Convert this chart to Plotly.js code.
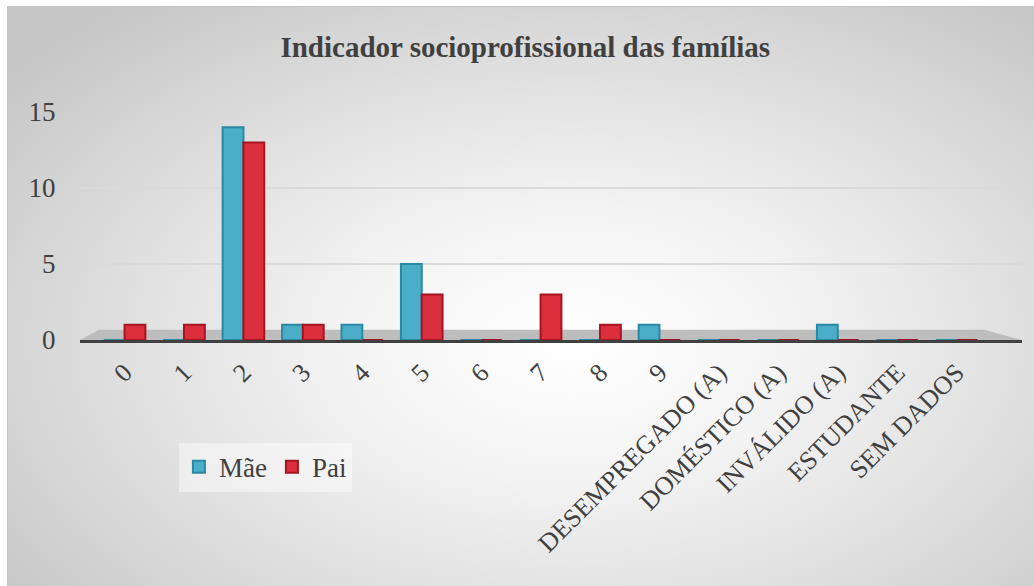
<!DOCTYPE html>
<html>
<head>
<meta charset="utf-8">
<script src="https://cdn.plot.ly/plotly-3.0.1.min.js"></script>
<style>
  html, body { margin: 0; padding: 0; background: #ffffff; width: 1034px; height: 586px; overflow: hidden; }
  #bg { position: absolute; left: 7px; top: 6px; width: 1026px; height: 579px;
        border: 1px solid #c4c4c4;
        background: radial-gradient(ellipse 70% 75% at 55% 58%, #ffffff 0%, #f4f4f4 30%, #dedede 65%, #c6c6c6 100%); }
  #chart { position: absolute; left: 0; top: 0; width: 1034px; height: 586px; }
</style>
</head>
<body>
<div id="bg"></div>
<div id="chart"></div>
<script>
const categories = ["0","1","2","3","4","5","6","7","8","9","DESEMPREGADO (A)","DOMÉSTICO (A)","INVÁLIDO (A)","ESTUDANTE","SEM DADOS"];
const maeValues = [0,0,14,1,1,5,0,0,0,1,0,0,1,0,0];
const paiValues = [1,1,13,1,0,3,0,3,1,0,0,0,0,0,0];
const yTicks = [0,5,10,15];

const serif = "Liberation Serif, Times New Roman, serif";

const traces = [
  { type: 'bar', name: 'Mãe', x: categories, y: maeValues,
    marker: { color: '#4aaec9', line: { color: '#2a88a2', width: 2 } } },
  { type: 'bar', name: 'Pai', x: categories, y: paiValues,
    marker: { color: '#dc2f3d', line: { color: '#a5141f', width: 2 } } }
];

const layout = {
  width: 1034, height: 586,
  paper_bgcolor: 'rgba(0,0,0,0)',
  plot_bgcolor: 'rgba(0,0,0,0)',
  margin: { l: 80, r: 12, t: 112, b: 246 },
  barmode: 'group', bargap: 0.3, bargroupgap: 0,
  title: { text: '<b>Indicador socioprofissional das famílias</b>',
           font: { family: serif, size: 29, color: '#404040' },
           x: 0.508, xanchor: 'center', y: 1 - 47/586, yref: 'container', yanchor: 'middle' },
  xaxis: {
    type: 'category', range: [-0.75, 15.1],
    tickangle: -45, tickfont: { family: serif, size: 26, color: '#404040' },
    showline: true, linecolor: '#404040', linewidth: 3,
    showgrid: false, ticks: 'outside', ticklen: 4, tickcolor: 'rgba(0,0,0,0)',
    zeroline: false
  },
  yaxis: {
    range: [0, 15], tickvals: yTicks, ticktext: yTicks.map(String),
    tickfont: { family: serif, size: 27, color: '#404040' },
    showgrid: true, gridcolor: '#dadada', gridwidth: 2,
    zeroline: false, showline: false,
    ticks: 'outside', ticklen: 18, tickcolor: 'rgba(0,0,0,0)'
  },
  legend: {
    orientation: 'h', x: 0.105, xanchor: 'left', y: -0.45, yanchor: 'top',
    bgcolor: 'rgba(255,255,255,0.45)',
    font: { family: serif, size: 27, color: '#404040' },
    itemwidth: 30, tracegroupgap: 0
  },
  shapes: [
    { type: 'path', xref: 'paper', yref: 'paper', layer: 'below',
      path: 'M 0.0,0 L 0.02,0.045 L 0.96,0.045 L 1.0,0 Z',
      fillcolor: '#bdbdbd', line: { width: 0 } }
  ]
};

Plotly.newPlot('chart', traces, layout, { displayModeBar: false, staticPlot: true });
</script>
</body>
</html>
